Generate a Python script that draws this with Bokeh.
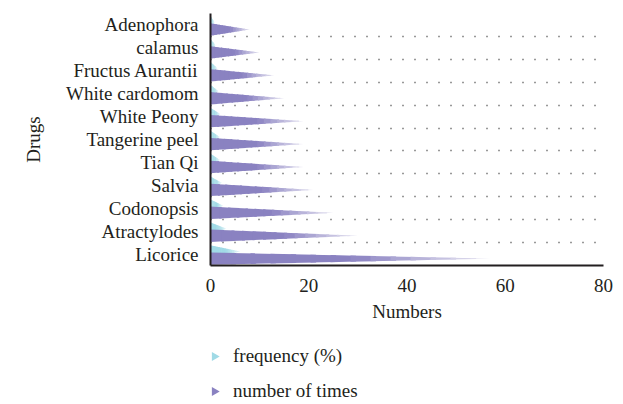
import math
from bokeh.plotting import figure
from bokeh.layouts import column
from bokeh.models import ColumnDataSource, FixedTicker, Legend, LegendItem, Range1d
from bokeh.embed import file_html
from bokeh.resources import INLINE

# ---- data (bottom to top) ----
drugs = ["Licorice", "Atractylodes", "Codonopsis", "Salvia", "Tian Qi",
         "Tangerine peel", "White Peony", "White cardomom", "Fructus Aurantii",
         "calamus", "Adenophora"]
number_of_times = [57, 30, 25, 21, 19, 19, 19, 15, 13, 10, 8]
frequency_pct = [6.1, 3.2, 2.6, 2.3, 1.9, 1.9, 2.0, 1.6, 1.4, 1.0, 0.8]
x_ticks = [0, 20, 40, 60, 80]
series_names = ["frequency (%)", "number of times"]

FONT = "Liberation Serif"
TXT = "#231f20"
CYAN = (160, 218, 230)
PURPLE = (138, 130, 193)
F_OFF, F_HALF = 0.11, 0.27
N_OFF, N_HALF = -0.20, 0.27


def blend(rgb, t):
    # t=0 -> colour, t=1 -> white
    r, g, b = (int(round(c + (255 - c) * t)) for c in rgb)
    return "#%02x%02x%02x" % (r, g, b)


def spikes(values, offset, half, rgb, n=14):
    xs, ys, cols = [], [], []
    for i, v in enumerate(values):
        c = i + offset
        for j in range(n):
            f0 = j / n
            f1 = min(1.0, (j + 1) / n + 0.02)
            xs.append([f0 * v, f1 * v, f1 * v, f0 * v])
            ys.append([c + half * (1 - f0), c + half * (1 - f1),
                       c - half * (1 - f1), c - half * (1 - f0)])
            fm = (j + 0.5) / n
            t = 0.0 if fm < 0.5 else 0.8 * (fm - 0.5) / 0.5
            cols.append(blend(rgb, t))
    return ColumnDataSource(dict(xs=xs, ys=ys, color=cols))


p = figure(width=615, height=345,
           x_range=Range1d(0, 80), y_range=Range1d(-0.5, len(drugs) - 0.5),
           output_backend="svg", toolbar_location=None,
           min_border_left=210, min_border_right=12, min_border_top=13,
           min_border_bottom=80)
p.outline_line_color = None
p.background_fill_color = "white"
p.border_fill_color = "white"

p.patches("xs", "ys", source=spikes(frequency_pct, F_OFF, F_HALF, CYAN),
          fill_color="color", line_color=None)
p.patches("xs", "ys", source=spikes(number_of_times, N_OFF, N_HALF, PURPLE),
          fill_color="color", line_color=None)

# axes
idx = list(range(len(drugs)))
p.xaxis.ticker = FixedTicker(ticks=x_ticks)
p.xaxis.axis_label = "Numbers"
p.yaxis.ticker = FixedTicker(ticks=idx)
p.yaxis.major_label_overrides = {i: d for i, d in enumerate(drugs)}
p.yaxis.axis_label = "Drugs"
for ax in (p.xaxis[0], p.yaxis[0]):
    ax.axis_line_color = TXT
    ax.axis_line_width = 2
    ax.major_tick_line_color = None
    ax.minor_tick_line_color = None
    ax.major_label_text_font = FONT
    ax.major_label_text_font_size = "19px"
    ax.major_label_text_color = TXT
    ax.axis_label_text_font = FONT
    ax.axis_label_text_font_size = "19px"
    ax.axis_label_text_font_style = "normal"
    ax.axis_label_text_color = TXT
p.xaxis.major_label_standoff = 7
p.xaxis.axis_label_standoff = 6
p.yaxis.major_label_standoff = 6
p.yaxis.axis_label_standoff = 19

# grid: dotted rows at band boundaries
p.xgrid.visible = False
p.ygrid.ticker = FixedTicker(ticks=[i - 0.5 for i in range(len(drugs) + 1)])
p.ygrid.grid_line_color = "#333333"
p.ygrid.grid_line_width = 1.5
p.ygrid.grid_line_dash = "1 11"

# ---- legend strip under the chart (pixel-unit ranges) ----
lg = figure(width=615, height=57, min_border=0, output_backend="svg",
            toolbar_location=None, x_range=Range1d(0, 393), y_range=Range1d(0, 57))
lg.axis.visible = False
lg.grid.visible = False
lg.outline_line_color = None
lg.border_fill_color = "white"
key_x = [4, 4]
key_y = [46, 11]
key_colors = [blend(CYAN, 0), blend(PURPLE, 0)]
keys = []
for kx, ky, kc in zip(key_x, key_y, key_colors):
    keys.append(lg.scatter(x=[kx], y=[ky], marker="triangle", angle=-math.pi / 2,
                           size=9, fill_color=kc, line_color=None))
legend = Legend(items=[LegendItem(label=series_names[0], renderers=[keys[0]]),
                       LegendItem(label=series_names[1], renderers=[keys[1]])],
                location=(0, 0), orientation="vertical",
                border_line_color=None, background_fill_alpha=0,
                padding=0, margin=0, spacing=13,
                glyph_width=1, glyph_height=22, label_height=22,
                label_standoff=22,
                label_text_font=FONT, label_text_font_size="19px",
                label_text_color=TXT)
lg.add_layout(legend, "center")

open("out.html", "w").write(file_html(column(p, lg, spacing=0), INLINE))
